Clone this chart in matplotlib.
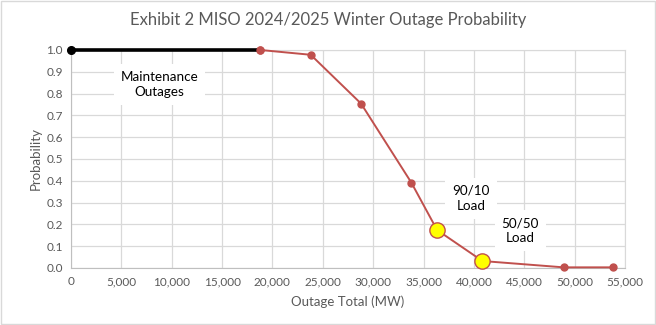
import matplotlib
matplotlib.use("Agg")
import matplotlib.pyplot as plt
from matplotlib.ticker import FuncFormatter

plt.rcParams['font.family'] = ['Lato', 'DejaVu Sans']

# Data
maint_x = [0, 18800]
maint_y = [1.0, 1.0]
outage_x = [18800, 23800, 28800, 33800, 36350, 40850, 48900, 53850]
outage_y = [1.0, 0.978, 0.754, 0.391, 0.174, 0.032, 0.003, 0.003]
highlight_x = [36350, 40850]
highlight_y = [0.174, 0.032]
annotations = [("Maintenance\nOutages", 8800, 0.84),
               ("90/10\nLoad", 39700, 0.32),
               ("50/50\nLoad", 44600, 0.17)]
title = "Exhibit 2 MISO 2024/2025 Winter Outage Probability"

fig = plt.figure(figsize=(6.56, 3.25), dpi=100)
ax = fig.add_axes([0.1082, 0.1754, 0.8445, 0.6708])

grid_c = '#d9d9d9'
text_c = '#595959'
red = '#c0504d'

ax.set_xlim(0, 55000)
ax.set_ylim(0, 1.0)
ax.set_xticks(range(0, 55001, 5000))
ax.set_yticks([i / 10 for i in range(11)])
ax.xaxis.set_major_formatter(FuncFormatter(lambda v, p: f"{int(v):,}"))
ax.yaxis.set_major_formatter(FuncFormatter(lambda v, p: f"{v:.1f}"))
ax.grid(True, color=grid_c, linewidth=0.9)
ax.set_axisbelow(True)
for s in ['top', 'right']:
    ax.spines[s].set_color(grid_c)
for s in ['left', 'bottom']:
    ax.spines[s].set_color('#bfbfbf')
ax.tick_params(length=0, labelsize=8.5, labelcolor=text_c, pad=6)

ax.plot(outage_x, outage_y, color=red, linewidth=1.4, marker='o',
        markersize=5, zorder=3, clip_on=False)
ax.plot(maint_x, maint_y, color='black', linewidth=2.6, zorder=4,
        solid_capstyle='butt', clip_on=False)
ax.plot(maint_x[:1], maint_y[:1], 'o', color='black', markersize=5.5,
        zorder=5, clip_on=False)
ax.plot(outage_x[:1], outage_y[:1], 'o', color=red, markersize=5,
        zorder=5, clip_on=False)
ax.plot(highlight_x, highlight_y, 'o', markerfacecolor='#ffff00',
        markeredgecolor=red, markersize=11, markeredgewidth=1, zorder=6,
        clip_on=False)

for txt, x, y in annotations:
    ax.text(x, y, txt, ha='center', va='center', fontsize=9.7, color='black',
            linespacing=1.3,
            bbox=dict(facecolor='white', edgecolor='none', pad=5), zorder=7)

ax.set_xlabel("Outage Total (MW)", fontsize=9.5, color=text_c, labelpad=6)
ax.set_ylabel("Probability", fontsize=9.5, color=text_c, labelpad=3)
fig.text(0.5, 0.938, title, ha='center', va='center', fontsize=12,
         color=text_c)

fig.patches.append(plt.Rectangle((0.001, 0.002), 0.998, 0.996,
                                 transform=fig.transFigure, fill=False,
                                 edgecolor='#d9d9d9', linewidth=1))

fig.savefig("out.png", dpi=100)
